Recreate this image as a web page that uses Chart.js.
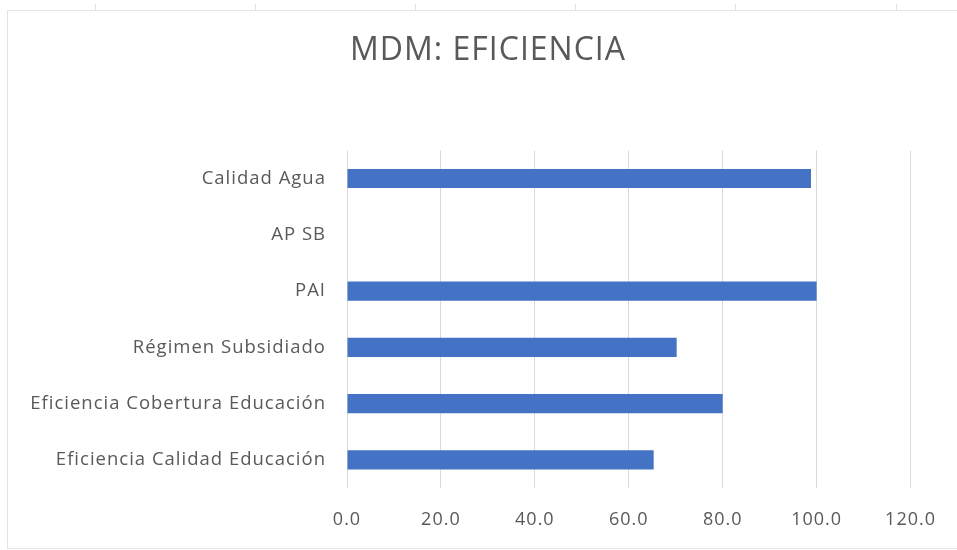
<!DOCTYPE html>
<html>
<head>
<meta charset="utf-8">
<script src="https://cdn.jsdelivr.net/npm/chart.js@4"></script>
<style>
  body { margin: 0; background: #fff; }
  #wrap { position: relative; width: 957px; height: 550px; }
  #frame { position: absolute; left: 7px; top: 10px; width: 960px; height: 537px;
           border-left: 1px solid #e3e3e3; border-top: 1px solid #e3e3e3; border-bottom: 1px solid #e3e3e3; }
  .tick { position: absolute; top: 4px; width: 1px; height: 7px; background: #e3e3e3; }
  canvas { display: block; }
</style>
</head>
<body>
<div id="wrap">
  <div id="frame"></div>
  <div class="tick" style="left:95px"></div>
  <div class="tick" style="left:255px"></div>
  <div class="tick" style="left:415px"></div>
  <div class="tick" style="left:575px"></div>
  <div class="tick" style="left:735px"></div>
  <div class="tick" style="left:896px"></div>
  <canvas id="mdm_chart" width="957" height="550"></canvas>
</div>
<script>
const categories = [
    'Calidad Agua',
    'AP SB',
    'PAI',
    'Régimen Subsidiado',
    'Eficiencia Cobertura Educación',
    'Eficiencia Calidad Educación'
];
const eficiencia_values = [98.8, 0, 100, 70.2, 80, 65.3];
const x_min = 0;
const x_max = 120;
const x_step = 20;

const text_color = '#595959';
const font_family = "'Open Sans', sans-serif";

// Excel's Calibri looks wider in the screenshot, so space the letters out a bit
const letterSpacingPlugin = {
    id: 'letterSpacing',
    beforeUpdate(chart) { chart.ctx.letterSpacing = '1px'; },
    beforeDraw(chart) { chart.ctx.letterSpacing = '1px'; }
};

// Excel centres the title over the whole chart box, not just right of the labels
const titleCenterPlugin = {
    id: 'titleCenter',
    afterLayout(chart) {
        chart.titleBlock.left = 64;
    }
};

const data = {
    labels: categories, datasets: [{
        label: 'Eficiencia', backgroundColor: '#4472C4', data: eficiencia_values,
        barPercentage: 0.34, categoryPercentage: 1.0
    }]
};
const config = {
    type: 'bar', data: data, plugins: [letterSpacingPlugin, titleCenterPlugin], options: {
        indexAxis: 'y',
        responsive: false,
        animation: false,
        layout: {
            padding: {top: 32, right: 45, bottom: 20, left: 25}
        },
        scales: {
            x: {
                min: x_min, max: x_max,
                afterFit: function (scale) { scale.height = 42; },
                ticks: {
                    stepSize: x_step,
                    padding: 21,
                    color: text_color,
                    font: {family: font_family, size: 18},
                    callback: function (value) {
                        return Number(value).toFixed(1);
                    }
                },
                grid: {
                    color: '#d9d9d9',
                    drawTicks: false
                },
                border: {display: false}
            },
            y: {
                afterFit: function (scale) { scale.width = 322; },
                ticks: {
                    padding: 21,
                    color: text_color,
                    font: {family: font_family, size: 18.5}
                },
                grid: {display: false, drawTicks: false},
                border: {display: false}
            }
        },
        plugins: {
            title: {
                display: true, text: 'MDM: EFICIENCIA', color: text_color,
                font: {family: font_family, size: 32, weight: 'normal'},
                padding: {top: 0, bottom: 80}
            },
            legend: {display: false},
            tooltip: {enabled: false}
        }
    }
};
const myChart = new Chart(document.getElementById('mdm_chart'), config);
</script>
</body>
</html>
